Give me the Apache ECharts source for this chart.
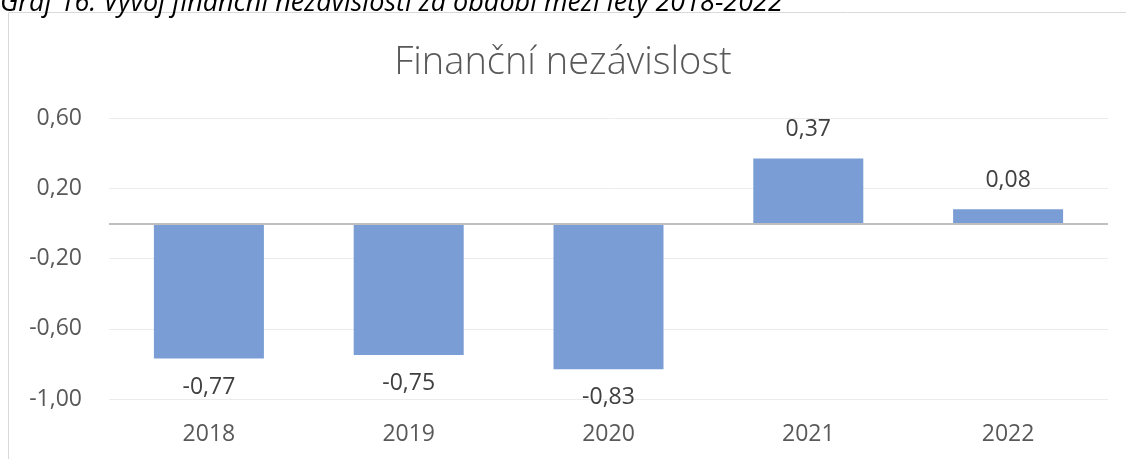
<!DOCTYPE html>
<html>
<head>
<meta charset="utf-8">
<script src="https://cdn.jsdelivr.net/npm/echarts@6/dist/echarts.min.js"></script>
<style>
  html, body { margin: 0; padding: 0; background: #fff; }
  #chart { width: 1126px; height: 459px; }
</style>
</head>
<body>
<div id="chart"></div>
<script>
const years = ['2018', '2019', '2020', '2021', '2022']
const independence = [-0.77, -0.75, -0.83, 0.37, 0.08]
const yTicks = { min: -1, max: 0.6, interval: 0.4 }

const fmt = v => v.toFixed(2).replace('.', ',')
const font = '"Open Sans", "Liberation Sans", sans-serif'

const chart = echarts.init(document.getElementById('chart'))

chart.setOption({
  animation: false,
  title: {
    text: 'Finanční nezávislost',
    left: 'center',
    top: 39,
    textStyle: {
      fontFamily: font,
      fontSize: 38,
      fontWeight: 300,
      color: '#595959'
    }
  },
  graphic: [
    {
      type: 'rect',
      shape: { x: 8.5, y: 12.5, width: 1200, height: 500 },
      style: { fill: 'none', stroke: '#d9d9d9', lineWidth: 1 },
      silent: true
    },
    {
      type: 'text',
      left: 0,
      top: -10,
      style: {
        text: 'Graf 16: Vývoj finanční nezávislosti za období mezi lety 2018-2022',
        font: 'italic 27px ' + font,
        fill: '#000'
      }
    }
  ],
  grid: {
    left: 109,
    right: 18,
    top: 118,
    bottom: 60,
    containLabel: false
  },
  xAxis: {
    type: 'category',
    data: years,
    axisLine: { show: false, onZero: false },
    axisTick: { show: false },
    axisLabel: {
      margin: 24,
      fontFamily: font,
      fontSize: 23,
      color: '#595959'
    }
  },
  yAxis: {
    type: 'value',
    min: yTicks.min,
    max: yTicks.max,
    interval: yTicks.interval,
    axisLine: { show: false },
    axisTick: { show: false },
    splitLine: { lineStyle: { color: '#ececec', width: 1 } },
    axisLabel: {
      margin: 27,
      fontFamily: font,
      fontSize: 23,
      color: '#595959',
      formatter: v => fmt(v)
    }
  },
  series: [{
    type: 'bar',
    barWidth: 110,
    itemStyle: { color: '#7a9dd5' },
    data: independence.map(v => ({
      value: v,
      label: { position: v < 0 ? 'bottom' : 'top' }
    })),
    label: {
      show: true,
      distance: 17,
      fontFamily: font,
      fontSize: 23,
      color: '#404040',
      formatter: p => fmt(p.value)
    },
    markLine: {
      silent: true,
      symbol: 'none',
      label: { show: false },
      lineStyle: { color: '#bfbfbf', width: 2, type: 'solid' },
      data: [{ yAxis: 0 }]
    }
  }]
})
</script>
</body>
</html>
